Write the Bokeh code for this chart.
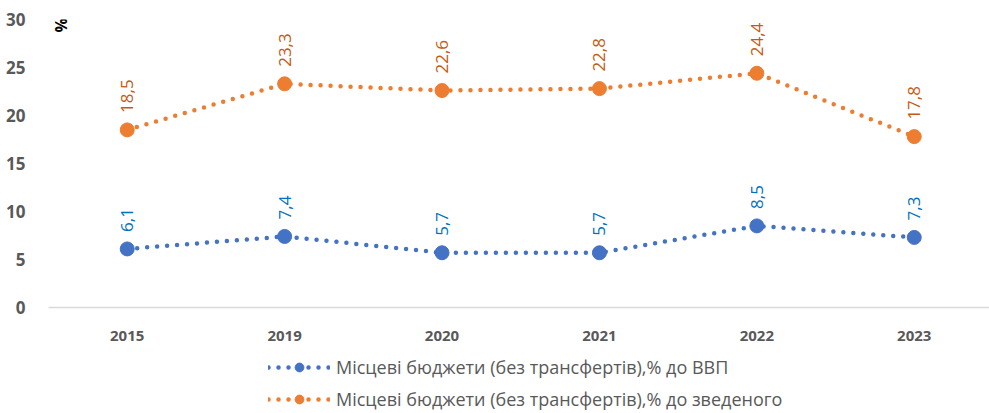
import math
from bokeh.plotting import figure
from bokeh.layouts import column
from bokeh.models import ColumnDataSource, Range1d, FixedTicker, Legend, LegendItem, Label
from bokeh.core.properties import value
from bokeh.embed import file_html
from bokeh.resources import INLINE

years = ["2015", "2019", "2020", "2021", "2022", "2023"]
gdp_share = [6.1, 7.4, 5.7, 5.7, 8.5, 7.3]
budget_share = [18.5, 23.3, 22.6, 22.8, 24.4, 17.8]
series_names = [
    "Місцеві бюджети (без трансфертів),% до ВВП",
    "Місцеві бюджети (без трансфертів),% до зведеного",
]
y_ticks = [0, 5, 10, 15, 20, 25, 30]

FONT = "Open Sans"
xs = list(range(len(years)))

p = figure(width=989, height=350, output_backend="svg", toolbar_location=None,
           x_range=Range1d(-0.5, 5.478), y_range=Range1d(0, 30),
           min_border_left=48, min_border_right=0, min_border_top=19, min_border_bottom=43)
p.outline_line_color = None
p.xgrid.grid_line_color = None
p.ygrid.grid_line_color = None

# axes
p.xaxis.ticker = FixedTicker(ticks=xs)
p.xaxis.major_label_overrides = {i: y for i, y in enumerate(years)}
p.xaxis.axis_line_color = "#D9D9D9"
p.xaxis.axis_line_width = 1.5
p.xaxis.major_tick_line_color = None
p.xaxis.minor_tick_line_color = None
p.xaxis.major_label_standoff = 17
p.xaxis.major_label_text_font = FONT
p.xaxis.major_label_text_font_style = "bold"
p.xaxis.major_label_text_font_size = "15px"
p.xaxis.major_label_text_color = "#595959"

p.yaxis.ticker = FixedTicker(ticks=y_ticks)
p.yaxis.axis_line_color = None
p.yaxis.major_tick_line_color = None
p.yaxis.minor_tick_line_color = None
p.yaxis.major_label_standoff = 17
p.yaxis.major_label_text_font = FONT
p.yaxis.major_label_text_font_style = "bold"
p.yaxis.major_label_text_font_size = "17px"
p.yaxis.major_label_text_color = "#595959"

# legend-only figure below the chart
lf = figure(width=989, height=63, output_backend="svg", toolbar_location=None,
            x_axis_location=None, y_axis_location=None,
            x_range=Range1d(0, 1), y_range=Range1d(0, 1),
            min_border_left=0, min_border_right=0, min_border_top=0, min_border_bottom=0)
lf.outline_line_color = None
lf.xgrid.grid_line_color = None
lf.ygrid.grid_line_color = None

series = [
    (gdp_share, "#4472C4", "#0070C0"),
    (budget_share, "#ED7D31", "#C55A11"),
]
items = []
for (vals, col, lab_col), name in zip(series, series_names):
    src = ColumnDataSource(dict(x=xs, y=vals,
                                lab=[("%.1f" % v).replace(".", ",") for v in vals]))
    line_kw = dict(line_color=col, line_width=4.5, line_dash="0 10", line_cap="round")
    mark_kw = dict(size=14, fill_color=col, line_color=col)
    p.line("x", "y", source=src, **line_kw)
    p.scatter("x", "y", source=src, **mark_kw)
    p.text("x", "y", text="lab", source=src, angle=math.pi / 2, y_offset=-17,
           text_align="left", text_baseline="middle", text_color=lab_col,
           text_font=value(FONT), text_font_size="17px")
    blank = ColumnDataSource(dict(x=[float("nan")], y=[float("nan")]))
    ln = lf.line("x", "y", source=blank, **line_kw)
    sc = lf.scatter("x", "y", source=blank, **mark_kw)
    items.append(LegendItem(label=name, renderers=[ln, sc]))

legend = Legend(items=items, location=(220, 2), orientation="vertical",
                glyph_width=62, glyph_height=22, label_height=22, spacing=8,
                padding=0, margin=0, label_standoff=6,
                label_text_font=FONT, label_text_font_size="18px",
                label_text_color="#595959",
                border_line_color=None, background_fill_alpha=0)
lf.add_layout(legend, "center")

pct = Label(x=-0.42, y=29.4, text="%", angle=math.pi / 2, text_align="center",
            text_baseline="middle", text_font=FONT, text_font_style="bold",
            text_font_size="16px", text_color="#000000")
p.add_layout(pct)

layout = column(p, lf, spacing=0)
open("out.html", "w").write(file_html(layout, INLINE))
